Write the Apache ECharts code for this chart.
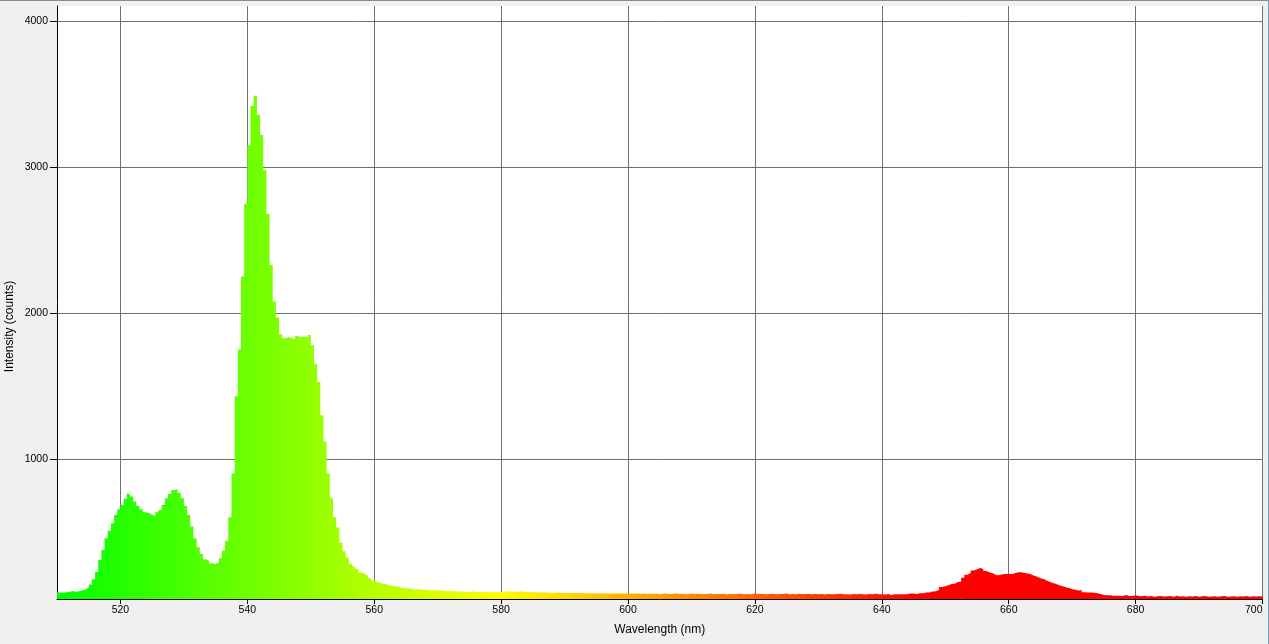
<!DOCTYPE html>
<html><head><meta charset="utf-8">
<script src="https://cdn.jsdelivr.net/npm/echarts@6/dist/echarts.min.js"></script>
<style>
html,body{margin:0;padding:0;background:#f0f0f0;overflow:hidden;}
#chart{position:absolute;left:0;top:0;width:1269px;height:644px;}
#topline{position:absolute;left:0;top:0;width:1269px;height:1px;background:#8c8c8c;}
#rightline{position:absolute;left:1268px;top:0;width:1px;height:644px;background:#7a9cc4;}
</style></head><body>
<div id="chart"></div><div id="topline"></div><div id="rightline"></div>
<script>
// Spectrum: 0.5 nm bins starting at 510 nm (bin left edges)
const wavelengthStart = 510;
const binWidth = 0.5;
const wavelengthEnd = 700;

// 510.0 - 535.0 nm
const greenBand = [
  84,82,86,89,95,89,93,100,105,118,
  139,175,225,307,376,456,508,559,616,655,
  685,728,762,742,708,678,655,634,630,618,
  609,634,650,685,730,760,785,792,769,730,
  678,616,537,456,395,349,312,301,285,280
];
// 535.0 - 560.0 nm
const mainPeak = [
  290,320,370,440,600,900,1430,1750,2250,2750,
  3150,3420,3490,3360,3220,2980,2680,2330,2080,1970,
  1855,1827,1834,1830,1820,1843,1835,1838,1834,1850,
  1780,1650,1530,1300,1120,900,730,600,530,425,
  368,325,282,262,246,221,212,200,184,166
];
// 560.0 - 600.0 nm
const yellowTail = [
  157,150,143,141,132,127,127,123,116,116,
  114,109,104,109,104,104,102,100,100,102,
  97,97,93,97,93,93,91,91,88,88,
  93,88,88,88,88,88,88,88,88,88,
  91,91,93,91,88,91,93,88,88,86,
  86,84,84,84,84,81,81,84,81,81,
  79,81,81,81,79,81,79,79,77,79,
  77,79,77,77,77,79,77,77,77,77
];
// 600.0 - 640.0 nm
const orangeBaseline = [
  78,76,80,75,77,74,76,75,77,73,76,78,74,75,79,74,76,73,75,77,
  74,76,72,75,74,78,73,75,74,76,72,74,75,73,77,74,72,75,73,80,
  76,74,75,73,76,74,72,75,74,77,73,74,72,76,73,75,74,72,75,73,
  74,71,75,73,72,74,76,72,73,71,74,72,75,73,71,74,72,76,73,72
];
// 640.0 - 680.5 nm
const redBand = [
  70,75,67,72,72,72,73,73,77,77,
  75,79,79,84,84,91,93,102,123,127,
  134,143,145,157,160,185,207,219,236,244,
  252,246,232,221,216,205,203,210,212,212,
  212,216,223,224,219,214,209,200,193,183,
  177,166,157,150,143,135,127,120,116,109,
  104,98,102,86,84,84,82,79,75,68,
  65,65,63,63,63,61,68,61,61,65,
  61
];
// 680.5 - 700.0 nm
const redTail = [
  58,62,57,60,56,59,61,57,58,60,56,62,57,58,56,59,57,60,56,58,
  61,56,57,59,56,58,60,55,57,59,56,58,57,60,56,58,57,59,57
];

const xTicks = [520,540,560,580,600,620,640,660,680,700];
const yTicks = [1000,2000,3000,4000];

const intensity = [].concat(greenBand, mainPeak, yellowTail, orangeBaseline, redBand, redTail);
const seriesData = intensity.map((v, i) => [wavelengthStart + i * binWidth, v]);
seriesData.push([wavelengthEnd, intensity[intensity.length - 1]]);

// wavelength -> colour stops (green 510, yellow 580, red 645+)
const span = wavelengthEnd - wavelengthStart;
const spectrumGradient = new echarts.graphic.LinearGradient(0, 0, 1, 0, [
  {offset: 0, color: '#00ff00'},
  {offset: (580 - wavelengthStart) / span, color: '#ffff00'},
  {offset: (645 - wavelengthStart) / span, color: '#ff0000'},
  {offset: 1, color: '#ff0000'}
]);

const font = 'Liberation Sans, Arial, sans-serif';
const chart = echarts.init(document.getElementById('chart'), null, {renderer: 'canvas'});
chart.setOption({
  animation: false,
  backgroundColor: '#f0f0f0',
  grid: {left: 57, right: 6.5, top: 6, bottom: 45, show: true, backgroundColor: '#ffffff', borderWidth: 0,
         containLabel: false, outerBoundsMode: 'none'},
  xAxis: {
    type: 'value', min: wavelengthStart, max: wavelengthEnd,
    name: 'Wavelength (nm)', nameLocation: 'middle', nameGap: 25, nameMoveOverlap: false,
    nameTextStyle: {fontFamily: font, fontSize: 12, color: '#000'},
    axisLine: {show: true, onZero: false, lineStyle: {color: '#000', width: 1}},
    axisTick: {show: true, length: 5, customValues: xTicks, lineStyle: {color: '#000'}},
    axisLabel: {customValues: xTicks, margin: 6, fontFamily: font, fontSize: 10.5, color: '#000',
                alignMaxLabel: 'right', formatter: v => String(v)},
    splitLine: {show: true, lineStyle: {color: '#707070', width: 1}},
    minorTick: {show: false}
  },
  yAxis: {
    type: 'value', min: 40, max: 4105,
    name: 'Intensity (counts)', nameLocation: 'middle', nameGap: 41, nameMoveOverlap: false,
    nameTextStyle: {fontFamily: font, fontSize: 12, color: '#000', padding: [0, 48, 0, 0]},
    axisLine: {show: true, onZero: false, lineStyle: {color: '#000', width: 1}},
    axisTick: {show: true, length: 7, customValues: yTicks, lineStyle: {color: '#000'}},
    axisLabel: {customValues: yTicks, margin: 9, fontFamily: font, fontSize: 10.5, color: '#000',
                formatter: v => String(v)},
    splitLine: {show: true, lineStyle: {color: '#707070', width: 1}}
  },
  series: [{
    type: 'line',
    data: seriesData,
    step: 'end',
    symbol: 'none',
    silent: true,
    lineStyle: {width: 0},
    areaStyle: {color: spectrumGradient, opacity: 1, origin: 'start'},
    z: 3
  }]
});
</script>
</body></html>
